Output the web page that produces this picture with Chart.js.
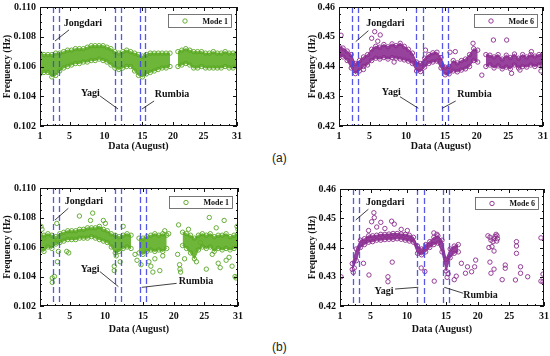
<!DOCTYPE html>
<html>
<head>
<meta charset="utf-8">
<script src="https://cdn.jsdelivr.net/npm/chart.js@4.4.1/dist/chart.umd.min.js"></script>
<style>
  html, body { margin: 0; padding: 0; background: #fff; }
  #page { position: relative; width: 550px; height: 356px; overflow: hidden; }
  #page canvas { position: absolute; }
  .tag { position: absolute; font-family: "Liberation Sans", Arial, sans-serif; font-size: 12px; color: #222; }
</style>
</head>
<body>
<div id="page">
  <canvas id="a1" width="250" height="165"></canvas>
  <canvas id="a6" width="255" height="165"></canvas>
  <canvas id="b1" width="250" height="165"></canvas>
  <canvas id="b6" width="255" height="165"></canvas>
  <div class="tag" style="left:272px;top:151px">(a)</div>
  <div class="tag" style="left:272px;top:340px">(b)</div>
</div>
<script>
// x axis runs in "position along the record" (0..100), tick labels are the August days
const xTickPos = [0, 15, 32.8, 52, 67.5, 83, 100];
const xTickLabels = ['1', '5', '10', '15', '20', '25', '31'];
const typhoonLines = [6.5, 9.4, 37.9, 41.1, 50.7, 53.5];
const mode1Ticks = [0.102, 0.104, 0.106, 0.108, 0.110];
const mode6Ticks = [0.42, 0.43, 0.44, 0.45, 0.46];

const xGrid = [0, 2, 4, 6, 8, 10, 12, 14, 16, 18, 20, 22, 24, 26, 28, 30, 32, 34, 36, 38, 40,
  42, 44, 46, 48, 50, 52, 54, 56, 58, 60, 62, 64, 66, 68, 70, 72, 74, 76, 78, 80,
  82, 84, 86, 88, 90, 92, 94, 96, 98, 100];

// (a) Mode 1 - lower / upper edge of the dense band
const a1Low = [.1055, .1056, .1056, .1053, .1054, .1057, .1059, .1060, .1061, .1062, .1062,
  .1063, .1063, .1064, .1064, .1065, .1064, .1063, .1061, .1059, .1058,
  .1059, .1060, .1060, .1057, .1054, .1053, .1055, .1056, .1057, .1058,
  .1059, .1059, .1060, null, .1060, .1061, .1062, .1061, .1059, .1059,
  .1060, .1059, .1059, .1059, .1059, .1059, .1060, .1059, .1059, .1060];
const a1High = [.1069, .1068, .1068, .1068, .1069, .1069, .1070, .1071, .1071, .1072, .1072,
  .1072, .1073, .1074, .1074, .1074, .1074, .1073, .1072, .1070, .1069,
  .1070, .1071, .1070, .1069, .1068, .1067, .1068, .1069, .1069, .1069,
  .1069, .1069, .1069, null, .1070, .1071, .1072, .1071, .1070, .1070,
  .1070, .1069, .1069, .1070, .1069, .1069, .1070, .1069, .1069, .1069];

// (a) Mode 6
const a6Low = [.4436, .4432, .4420, .4395, .4376, .4385, .4400, .4405, .4420, .4428, .4425,
  .4430, .4425, .4430, .4428, .4425, .4422, .4418, .4410, .4385, .4383,
  .4398, .4410, .4415, .4418, .4395, .4372, .4375, .4385, .4382, .4388,
  .4392, .4400, .4420, .4415, null, .4400, .4405, .4395, .4402, .4392,
  .4398, .4392, .4405, .4395, .4400, .4398, .4405, .4400, .4405, .4410];
const a6High = [.4468, .4462, .4452, .4440, .4410, .4420, .4432, .4440, .4458, .4468, .4465,
  .4474, .4466, .4476, .4470, .4478, .4468, .4458, .4445, .4415, .4410,
  .4428, .4440, .4446, .4448, .4430, .4398, .4400, .4420, .4412, .4420,
  .4425, .4440, .4460, .4455, null, .4440, .4438, .4432, .4440, .4425,
  .4438, .4430, .4442, .4428, .4440, .4432, .4440, .4435, .4440, .4440];
const a6OutX = [1, 16, 17.5, 19, 20.2, 12, 27, 42.4, 54.4, 57, 65.7, 70, 75.7, 82.2, 84.6, 88.7, 94.3, 99, 99.5];
const a6OutY = [.4505, .4495, .4517, .4485, .4506, .4390, .4415, .4455, .4448, .4450, .4478, .4371, .4489, .4489, .4377, .4388, .4450, .4385, .4406];

// (b) Mode 1
const b1Low = [.1058, .1057, .1060, .1059, .1062, .1063, .1064, .1065, .1065, .1065, .1066,
  .1066, .1066, .1067, .1066, .1065, .1064, .1063, .1060, .1056, .1057,
  .1059, .1060, .1059, null, .1056, .1055, .1057, .1058, .1057, .1058,
  .1057, .1059, null, null, null, .1061, .1059, .1056, .1052, .1058,
  .1060, .1059, .1060, .1057, .1059, .1058, .1059, .1058, .1059, .1060];
const b1High = [.1068, .1068, .1069, .1068, .1067, .1069, .1070, .1071, .1071, .1071, .1072,
  .1072, .1073, .1073, .1073, .1074, .1072, .1071, .1069, .1068, .1067,
  .1068, .1069, .1068, null, .1066, .1066, .1067, .1068, .1069, .1068,
  .1069, .1068, null, null, null, .1070, .1069, .1068, .1066, .1068,
  .1069, .1068, .1069, .1067, .1068, .1068, .1069, .1067, .1068, .1069];
const b1OutX = [0.5, 1, 2, 6.2, 6.2, 7.3, 7.8, 8.5, 8.8, 9.3, 13.5, 14.5, 19.9, 25.5, 26.6, 32, 33,
  37.5, 37.5, 38.5, 40.5, 42, 48, 49, 51, 55, 56, 57, 58, 60.5, 62, 63, 65,
  69.5, 70, 70.5, 70.7, 71, 73, 75, 79, 81, 84, 85.5, 87, 89, 90, 91, 93, 94, 95.5, 97, 98.5, 99, 99.5, 100];
const b1OutY = [.1074, .1072, .1066, .1039, .1036, .1040, .1063, .1076, .1050, .1057, .1057, .1056, .1081, .1078, .1083, .1078, .1076,
  .1047, .1044, .1054, .1050, .1074, .1055, .1051, .1048, .1050, .1047, .1043, .1052, .1044, .1054, .1071, .1069,
  .1055, .1075, .1048, .1045, .1043, .1052, .1072, .1050, .1063, .1045, .1080, .1055, .1073, .1049, .1046, .1078, .1051, .1053, .1047, .1040, .1039, .1074, .1072];

// (b) Mode 6
const b6Low = [null, null, null, .4325, .4355, .4400, .4410, .4418, .4420, .4425, .4425,
  .4427, .4428, .4428, .4430, .4428, .4425, .4422, .4418, .4380, .4375,
  .4385, .4400, .4410, .4415, .4385, .4320, .4365, .4380, .4385, null,
  null, null, null, null, null, null, null, null, null, null,
  null, null, null, null, null, null, null, null, null, null];
const b6High = [null, null, null, .4345, .4395, .4425, .4430, .4440, .4440, .4442, .4445,
  .4445, .4446, .4448, .4448, .4446, .4445, .4442, .4435, .4405, .4395,
  .4410, .4420, .4435, .4440, .4425, .4360, .4395, .4405, .4410, null,
  null, null, null, null, null, null, null, null, null, null,
  null, null, null, null, null, null, null, null, null, null];
const b6OutX = [0.5, 6.5, 7, 11.5, 14, 14.2, 15.5, 16.6, 16.8, 18, 20, 22, 23.5, 23.5, 25.3, 25.6, 26.6, 30, 33,
  39.8, 41.6, 46, 46.2, 47.5, 52.5, 53, 56, 57, 59.5, 61.5, 62.5, 64.5, 66, 66.5,
  72.5, 73, 73.5, 73.5, 74, 74, 74.5, 75, 75.5, 75.5, 75.5, 76, 76.5, 76.8, 77, 77.2,
  79.5, 81, 81, 86, 86.5, 86.5, 86.5, 88.5, 88.5, 92, 98.5, 98.5, 99.5, 99.5];
const b6OutY = [.4300, .4315, .4330, .4346, .4458, .4306, .4488, .4519, .4502, .4470, .4486, .4465, .4300, .4283, .4490, .4350, .4480, .4462, .4458,
  .4330, .4318, .4450, .4285, .4445, .4298, .4310, .4290, .4302, .4346, .4312, .4334, .4317, .4334, .4357,
  .4440, .4400, .4435, .4350, .4425, .4312, .4403, .4420, .4430, .4388, .4326, .4438, .4445, .4422, .4440, .4430,
  .4290, .4340, .4329, .4289, .4420, .4405, .4380, .4334, .4312, .4300, .4433, .4285, .4283, .4309];

const SERIF = '"Liberation Serif", "Times New Roman", serif';
const GREEN = '#58a622', GREEN_FILL = 'rgba(98,176,40,0.92)';
const PURPLE = '#8a2a8c', PURPLE_FILL = 'rgba(140,45,145,0.9)';

function pts(xs, ys) {
  return xs.map((v, i) => ({ x: v, y: ys[i] }));
}

function bandSets(lo, hi, color, fill) {
  const common = {
    type: 'line', borderWidth: 1, borderColor: fill, pointRadius: 2.2, pointBorderWidth: 0.9,
    pointBorderColor: color, pointBackgroundColor: 'rgba(0,0,0,0)', spanGaps: false, tension: 0
  };
  return [
    Object.assign({}, common, { data: pts(xGrid, lo), fill: false }),
    Object.assign({}, common, { data: pts(xGrid, hi), fill: '-1', backgroundColor: fill })
  ];
}

function outlierSet(xs, ys, color) {
  return {
    type: 'scatter', data: pts(xs, ys), showLine: false, pointRadius: 2.2, pointBorderWidth: 0.9,
    pointBorderColor: color, pointBackgroundColor: 'rgba(0,0,0,0)'
  };
}

// frame with inward ticks, typhoon lines, notes and the small legend box
const decorPlugin = {
  id: 'decor',
  afterDatasetsDraw(chart, args, opts) {
    const { ctx, chartArea: a, scales: { x, y } } = chart;
    const w = a.right - a.left, h = a.bottom - a.top;
    ctx.save();

    ctx.strokeStyle = 'rgba(70,70,228,0.9)';
    ctx.lineWidth = 1.3;
    ctx.setLineDash([6, 3]);
    typhoonLines.forEach(v => {
      const px = Math.round(x.getPixelForValue(v)) + 0.5;
      ctx.beginPath(); ctx.moveTo(px, a.top); ctx.lineTo(px, a.bottom); ctx.stroke();
    });
    ctx.setLineDash([]);

    ctx.strokeStyle = '#111';
    ctx.lineWidth = 1;
    ctx.strokeRect(a.left + 0.5, a.top + 0.5, w - 1, h - 1);

    const tick = (x1, y1, x2, y2) => { ctx.beginPath(); ctx.moveTo(x1, y1); ctx.lineTo(x2, y2); ctx.stroke(); };
    for (let i = 0; i < xTickPos.length; i++) {
      const px = Math.round(x.getPixelForValue(xTickPos[i])) + 0.5;
      tick(px, a.bottom, px, a.bottom - 4); tick(px, a.top, px, a.top + 4);
      if (i < xTickPos.length - 1) {
        for (let k = 1; k < 4; k++) {
          const v = xTickPos[i] + (xTickPos[i + 1] - xTickPos[i]) * k / 4;
          const mx = Math.round(x.getPixelForValue(v)) + 0.5;
          tick(mx, a.bottom, mx, a.bottom - 2); tick(mx, a.top, mx, a.top + 2);
        }
      }
    }
    const yt = opts.yTicks;
    for (let i = 0; i < yt.length; i++) {
      const py = Math.round(y.getPixelForValue(yt[i])) + 0.5;
      tick(a.left, py, a.left + 4, py); tick(a.right, py, a.right - 4, py);
      if (i < yt.length - 1) {
        for (let k = 1; k < 4; k++) {
          const v = yt[i] + (yt[i + 1] - yt[i]) * k / 4;
          const my = Math.round(y.getPixelForValue(v)) + 0.5;
          tick(a.left, my, a.left + 2, my); tick(a.right, my, a.right - 2, my);
        }
      }
    }

    // typhoon names
    ctx.fillStyle = '#111';
    ctx.font = 'bold 10px ' + SERIF;
    ctx.textAlign = 'center';
    ctx.textBaseline = 'middle';
    ctx.lineWidth = 0.8;
    opts.notes.forEach(n => {
      ctx.fillText(n.text, a.left + n.t[0] * w, a.top + n.t[1] * h);
      tick(a.left + n.l[0] * w, a.top + n.l[1] * h, a.left + n.l[2] * w, a.top + n.l[3] * h);
    });

    // legend
    const lg = opts.legend;
    const bx = a.right - 6 - 63, by = a.top + lg.dy;
    ctx.fillStyle = '#fff';
    ctx.fillRect(bx, by, 63, lg.h);
    ctx.strokeStyle = '#555';
    ctx.lineWidth = 0.8;
    ctx.strokeRect(bx + 0.5, by + 0.5, 63, lg.h);
    ctx.strokeStyle = lg.color;
    ctx.lineWidth = 0.9;
    ctx.beginPath(); ctx.arc(bx + 17, by + lg.h / 2 + 0.5, 2.2, 0, Math.PI * 2); ctx.stroke();
    ctx.fillStyle = '#111';
    ctx.font = 'bold 8px ' + SERIF;
    ctx.textAlign = 'right';
    ctx.fillText(lg.label, bx + 60, by + lg.h / 2 + 1);
    ctx.restore();
  }
};

function buildConfig(p) {
  const font = { family: SERIF, size: 10, weight: 'bold' };
  return {
    type: 'scatter',
    data: { datasets: p.datasets },
    options: {
      responsive: false,
      maintainAspectRatio: false,
      animation: false,
      layout: { padding: { top: 6, right: 6, left: 0, bottom: 0 } },
      plugins: {
        legend: { display: false },
        tooltip: { enabled: false },
        decor: { yTicks: p.yTicks, notes: p.notes, legend: p.legend }
      },
      scales: {
        x: {
          type: 'linear', min: 0, max: 100,
          grid: { display: false, drawTicks: false }, border: { display: false },
          afterBuildTicks: s => { s.ticks = xTickPos.map(v => ({ value: v })); },
          afterFit: s => { s.height = 34; },
          ticks: { autoSkip: false, maxRotation: 0, padding: 4, color: '#111', font: font,
            callback: (v, i) => xTickLabels[i] },
          title: { display: true, text: 'Data (August)', color: '#111',
            font: { family: SERIF, size: 10, weight: 'bold' },
            padding: { top: 0, bottom: p.xTitlePad } }
        },
        y: {
          type: 'linear', min: p.yTicks[0], max: p.yTicks[p.yTicks.length - 1],
          grid: { display: false, drawTicks: false }, border: { display: false },
          afterBuildTicks: s => { s.ticks = p.yTicks.map(v => ({ value: v })); },
          afterFit: s => { s.width = 40; },
          ticks: { padding: 4, color: '#111', font: font, callback: v => v.toFixed(p.dec) },
          title: { display: true, text: 'Frequency (Hz)', color: '#111',
            font: { family: SERIF, size: 9.5, weight: 'bold' },
            padding: { top: p.yTitlePad, bottom: 0 } }
        }
      }
    },
    plugins: [decorPlugin]
  };
}

// build once to learn the label padding, then size and place the canvas so the
// plot frame lands on the target box (page pixels)
function makePanel(id, box, p) {
  const canvas = document.getElementById(id);
  let chart = new Chart(canvas, buildConfig(p));
  let a = chart.chartArea;
  const cw = canvas.width + (box[2] - box[0]) - (a.right - a.left);
  const ch = canvas.height + (box[3] - box[1]) - (a.bottom - a.top);
  chart.destroy();
  canvas.width = cw;
  canvas.height = ch;
  chart = new Chart(canvas, buildConfig(p));
  a = chart.chartArea;
  canvas.style.left = (box[0] - a.left) + 'px';
  canvas.style.top = (box[1] - a.top) + 'px';
}

makePanel('a1', [40, 7, 237, 126], {
  datasets: bandSets(a1Low, a1High, GREEN, GREEN_FILL),
  yTicks: mode1Ticks, dec: 3, xTitlePad: 7.3, yTitlePad: 1.5,
  legend: { label: 'Mode 1', color: GREEN, dy: 7, h: 13 },
  notes: [
    { text: 'Jongdari', t: [0.218, 0.134], l: [0.147, 0.193, 0.076, 0.286] },
    { text: 'Yagi', t: [0.256, 0.723], l: [0.305, 0.748, 0.396, 0.857] },
    { text: 'Rumbia', t: [0.670, 0.731], l: [0.579, 0.790, 0.518, 0.857] }
  ]
});

makePanel('a6', [339, 7, 543, 126], {
  datasets: bandSets(a6Low, a6High, PURPLE, PURPLE_FILL).concat([outlierSet(a6OutX, a6OutY, PURPLE)]),
  yTicks: mode6Ticks, dec: 2, xTitlePad: 7.3, yTitlePad: 8.3,
  legend: { label: 'Mode 6', color: PURPLE, dy: 7, h: 13 },
  notes: [
    { text: 'Jongdari', t: [0.227, 0.134], l: [0.144, 0.199, 0.082, 0.291] },
    { text: 'Yagi', t: [0.256, 0.720], l: [0.299, 0.754, 0.389, 0.851] },
    { text: 'Rumbia', t: [0.664, 0.731], l: [0.572, 0.790, 0.506, 0.851] }
  ]
});

makePanel('b1', [40, 188, 238, 306], {
  datasets: bandSets(b1Low, b1High, GREEN, GREEN_FILL).concat([outlierSet(b1OutX, b1OutY, GREEN)]),
  yTicks: mode1Ticks, dec: 3, xTitlePad: 4.7, yTitlePad: 1.6,
  legend: { label: 'Mode 1', color: GREEN, dy: 8, h: 12 },
  notes: [
    { text: 'Jongdari', t: [0.222, 0.116], l: [0.143, 0.172, 0.076, 0.271] },
    { text: 'Yagi', t: [0.253, 0.689], l: [0.303, 0.709, 0.396, 0.836] },
    { text: 'Rumbia', t: [0.788, 0.788], l: [0.690, 0.808, 0.514, 0.842] }
  ]
});

makePanel('b6', [340, 189, 544, 306], {
  datasets: bandSets(b6Low, b6High, PURPLE, PURPLE_FILL).concat([outlierSet(b6OutX, b6OutY, PURPLE)]),
  yTicks: mode6Ticks, dec: 2, xTitlePad: 4.7, yTitlePad: 7,
  legend: { label: 'Mode 6', color: PURPLE, dy: 8, h: 12 },
  notes: [
    { text: 'Jongdari', t: [0.222, 0.114], l: [0.139, 0.173, 0.077, 0.265] },
    { text: 'Yagi', t: [0.216, 0.872], l: [0.270, 0.855, 0.384, 0.840] },
    { text: 'Rumbia', t: [0.689, 0.906], l: [0.604, 0.891, 0.511, 0.840] }
  ]
});
</script>
</body>
</html>
